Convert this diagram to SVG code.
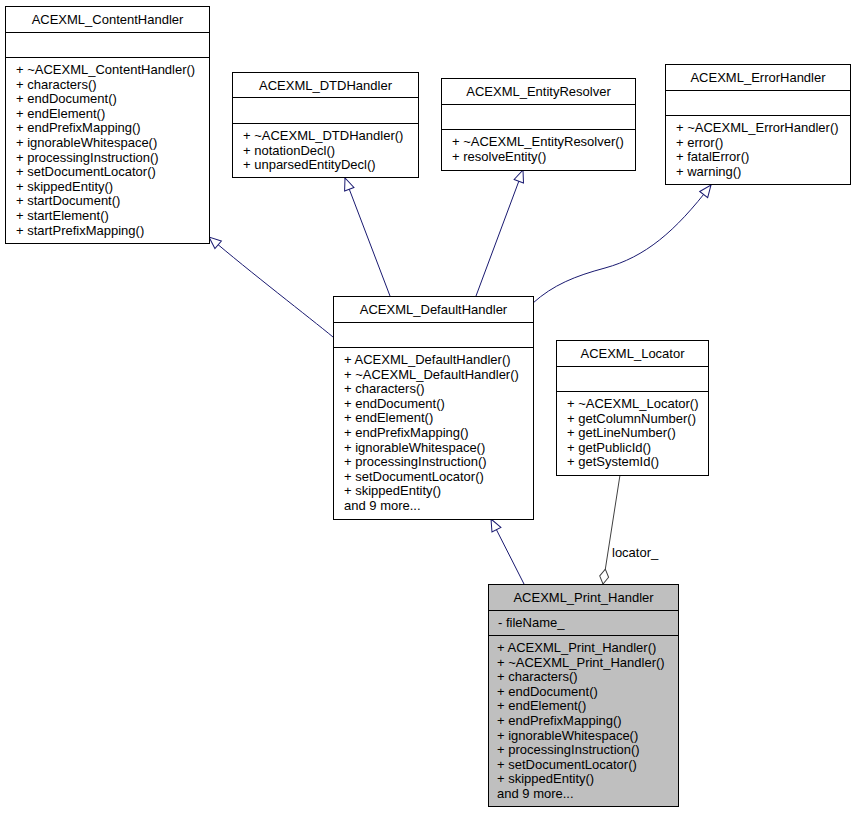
<svg xmlns="http://www.w3.org/2000/svg" width="855" height="813" viewBox="0 0 855 813">
<style>
  .box { fill: #ffffff; stroke: #000000; stroke-width: 1; }
  .cur { fill: #bfbfbf; stroke: #000000; stroke-width: 1; }
  .sep { stroke: #000000; stroke-width: 1; }
  text { font-family: "Liberation Sans", Arial, Helvetica, sans-serif; font-size: 13px; fill: #000000; }
  .t { text-anchor: middle; }
  .inh { fill: none; stroke: #191970; stroke-width: 1; marker-end: url(#tri); }
  .agg { fill: none; stroke: #404040; stroke-width: 1; marker-end: url(#dia); }
</style>
<defs>
  <marker id="tri" markerUnits="userSpaceOnUse" markerWidth="16" markerHeight="14" viewBox="-2 -7 16 14" refX="12" refY="0" orient="auto">
    <path d="M0,-5 L12,0 L0,5 Z" fill="#ffffff" stroke="#191970" stroke-width="1"/>
  </marker>
  <marker id="dia" markerUnits="userSpaceOnUse" markerWidth="18" markerHeight="12" viewBox="-2 -6 18 12" refX="15" refY="0" orient="auto">
    <path d="M0,0 L7.5,-4.5 L15,0 L7.5,4.5 Z" fill="#ffffff" stroke="#404040" stroke-width="1"/>
  </marker>
</defs>
<rect x="0" y="0" width="855" height="813" fill="#ffffff"/>

<g id="connectors">
  <path class="inh" d="M333,337 C310,318 250,272 209,237"/>
  <path class="inh" d="M390,296 L345,178"/>
  <path class="inh" d="M476,296 L523,170"/>
  <path class="inh" d="M533,303 C553,285 575,276 605,268 C645,257 675,232 711,185"/>
  <path class="inh" d="M524,584 L491,519"/>
  <path class="agg" d="M620,475 L603,584"/>
  <text x="612" y="557">locator_</text>
</g>

<g id="ACEXML_ContentHandler">
  <rect class="box" x="5.5" y="6.5" width="204" height="237"/>
  <line class="sep" x1="5.5" y1="32.5" x2="209.5" y2="32.5"/>
  <line class="sep" x1="5.5" y1="57.5" x2="209.5" y2="57.5"/>
  <text class="t" x="107.5" y="24">ACEXML_ContentHandler</text>
  <text x="16">
    <tspan x="16" y="74">+ ~ACEXML_ContentHandler()</tspan>
    <tspan x="16" y="88.6">+ characters()</tspan>
    <tspan x="16" y="103.2">+ endDocument()</tspan>
    <tspan x="16" y="117.8">+ endElement()</tspan>
    <tspan x="16" y="132.4">+ endPrefixMapping()</tspan>
    <tspan x="16" y="147">+ ignorableWhitespace()</tspan>
    <tspan x="16" y="161.6">+ processingInstruction()</tspan>
    <tspan x="16" y="176.2">+ setDocumentLocator()</tspan>
    <tspan x="16" y="190.8">+ skippedEntity()</tspan>
    <tspan x="16" y="205.4">+ startDocument()</tspan>
    <tspan x="16" y="220">+ startElement()</tspan>
    <tspan x="16" y="234.6">+ startPrefixMapping()</tspan>
  </text>
</g>

<g id="ACEXML_DTDHandler">
  <rect class="box" x="232.5" y="72.5" width="186" height="105"/>
  <line class="sep" x1="232.5" y1="97.5" x2="418.5" y2="97.5"/>
  <line class="sep" x1="232.5" y1="123.5" x2="418.5" y2="123.5"/>
  <text class="t" x="325.5" y="90">ACEXML_DTDHandler</text>
  <text x="243">
    <tspan x="243" y="140">+ ~ACEXML_DTDHandler()</tspan>
    <tspan x="243" y="154.6">+ notationDecl()</tspan>
    <tspan x="243" y="169.2">+ unparsedEntityDecl()</tspan>
  </text>
</g>

<g id="ACEXML_EntityResolver">
  <rect class="box" x="441.5" y="78.5" width="194" height="92"/>
  <line class="sep" x1="441.5" y1="104.5" x2="635.5" y2="104.5"/>
  <line class="sep" x1="441.5" y1="129.5" x2="635.5" y2="129.5"/>
  <text class="t" x="538.5" y="96">ACEXML_EntityResolver</text>
  <text x="452">
    <tspan x="452" y="146">+ ~ACEXML_EntityResolver()</tspan>
    <tspan x="452" y="160.6">+ resolveEntity()</tspan>
  </text>
</g>

<g id="ACEXML_ErrorHandler">
  <rect class="box" x="665.5" y="64.5" width="185" height="120"/>
  <line class="sep" x1="665.5" y1="90.5" x2="850.5" y2="90.5"/>
  <line class="sep" x1="665.5" y1="115.5" x2="850.5" y2="115.5"/>
  <text class="t" x="758" y="82">ACEXML_ErrorHandler</text>
  <text x="676">
    <tspan x="676" y="132">+ ~ACEXML_ErrorHandler()</tspan>
    <tspan x="676" y="146.6">+ error()</tspan>
    <tspan x="676" y="161.2">+ fatalError()</tspan>
    <tspan x="676" y="175.8">+ warning()</tspan>
  </text>
</g>

<g id="ACEXML_DefaultHandler">
  <rect class="box" x="333.5" y="296.5" width="200" height="223"/>
  <line class="sep" x1="333.5" y1="322.5" x2="533.5" y2="322.5"/>
  <line class="sep" x1="333.5" y1="347.5" x2="533.5" y2="347.5"/>
  <text class="t" x="433.5" y="314">ACEXML_DefaultHandler</text>
  <text x="344">
    <tspan x="344" y="364">+ ACEXML_DefaultHandler()</tspan>
    <tspan x="344" y="378.6">+ ~ACEXML_DefaultHandler()</tspan>
    <tspan x="344" y="393.2">+ characters()</tspan>
    <tspan x="344" y="407.8">+ endDocument()</tspan>
    <tspan x="344" y="422.4">+ endElement()</tspan>
    <tspan x="344" y="437">+ endPrefixMapping()</tspan>
    <tspan x="344" y="451.6">+ ignorableWhitespace()</tspan>
    <tspan x="344" y="466.2">+ processingInstruction()</tspan>
    <tspan x="344" y="480.8">+ setDocumentLocator()</tspan>
    <tspan x="344" y="495.4">+ skippedEntity()</tspan>
    <tspan x="344" y="510">and 9 more...</tspan>
  </text>
</g>

<g id="ACEXML_Locator">
  <rect class="box" x="556.5" y="340.5" width="152" height="135"/>
  <line class="sep" x1="556.5" y1="366.5" x2="708.5" y2="366.5"/>
  <line class="sep" x1="556.5" y1="391.5" x2="708.5" y2="391.5"/>
  <text class="t" x="632.5" y="358">ACEXML_Locator</text>
  <text x="567">
    <tspan x="567" y="408">+ ~ACEXML_Locator()</tspan>
    <tspan x="567" y="422.6">+ getColumnNumber()</tspan>
    <tspan x="567" y="437.2">+ getLineNumber()</tspan>
    <tspan x="567" y="451.8">+ getPublicId()</tspan>
    <tspan x="567" y="466.4">+ getSystemId()</tspan>
  </text>
</g>

<g id="ACEXML_Print_Handler">
  <rect class="cur" x="488.5" y="584.5" width="190" height="222"/>
  <line class="sep" x1="488.5" y1="610.5" x2="678.5" y2="610.5"/>
  <line class="sep" x1="488.5" y1="635.5" x2="678.5" y2="635.5"/>
  <text class="t" x="583.5" y="602">ACEXML_Print_Handler</text>
  <text x="498" y="627">- fileName_</text>
  <text x="497">
    <tspan x="497" y="652">+ ACEXML_Print_Handler()</tspan>
    <tspan x="497" y="666.6">+ ~ACEXML_Print_Handler()</tspan>
    <tspan x="497" y="681.2">+ characters()</tspan>
    <tspan x="497" y="695.8">+ endDocument()</tspan>
    <tspan x="497" y="710.4">+ endElement()</tspan>
    <tspan x="497" y="725">+ endPrefixMapping()</tspan>
    <tspan x="497" y="739.6">+ ignorableWhitespace()</tspan>
    <tspan x="497" y="754.2">+ processingInstruction()</tspan>
    <tspan x="497" y="768.8">+ setDocumentLocator()</tspan>
    <tspan x="497" y="783.4">+ skippedEntity()</tspan>
    <tspan x="497" y="798">and 9 more...</tspan>
  </text>
</g>
</svg>
